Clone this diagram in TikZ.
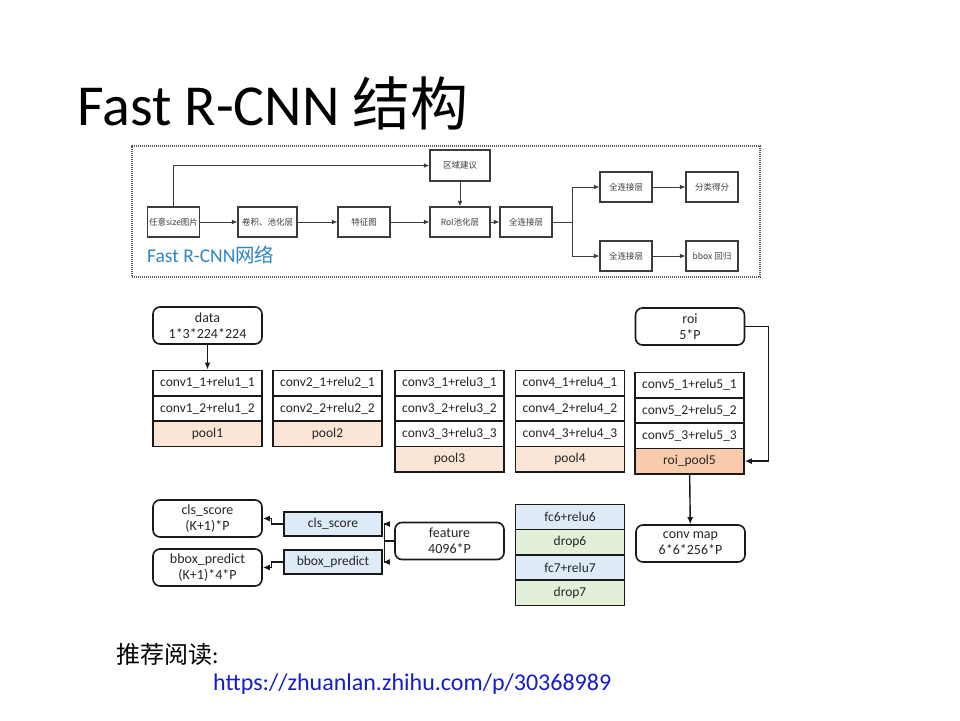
\documentclass[tikz,border=0pt]{standalone}
\usepackage{fontspec}
\setmainfont{Carlito}
\newfontfamily\cjk{Noto Sans CJK SC}
\usetikzlibrary{arrows.meta}
\definecolor{peach}{RGB}{251,229,214}
\definecolor{peachdark}{RGB}{248,203,173}
\definecolor{fcblue}{RGB}{222,235,247}
\definecolor{fcgreen}{RGB}{226,240,217}
\definecolor{netblue}{RGB}{46,134,199}
\definecolor{linkblue}{RGB}{20,30,200}
\definecolor{inkgray}{RGB}{60,60,60}

\tikzset{
  % upper flow chart
  flowbox/.style={draw=inkgray, line width=1.1pt, minimum height=30pt,
    minimum width=52pt, inner sep=1pt, text=inkgray,
    font=\cjk\fontsize{8.5}{9.5}\selectfont},
  flowarrow/.style={draw=inkgray, line width=0.8pt,
    -{Latex[length=5.5pt,width=4.5pt]}},
  flowline/.style={draw=inkgray, line width=0.8pt},
  frame/.style={draw=gray!70!black, line width=1.2pt, dash pattern=on 1.1pt off 0.9pt},
  % lower layer diagram
  layer/.style={draw=black!90, line width=1.6pt, minimum width=109pt,
    minimum height=25.3pt, inner sep=0pt, fill=white, text=black!85,
    font=\fontsize{13.5}{15}\selectfont},
  blob/.style={draw=black!90, line width=1.6pt, rounded corners=7pt,
    minimum width=109pt, minimum height=37pt, inner sep=1pt, align=center,
    text=black!85, font=\fontsize{14}{16}\selectfont},
  headbox/.style={layer, minimum width=98pt, minimum height=24pt, fill=fcblue},
  link/.style={draw=black!90, line width=1.4pt,
    -{Latex[length=7pt,width=6pt]}},
}

\begin{document}
\begin{tikzpicture}[x=1pt,y=-1pt]
\useasboundingbox[fill=white] (0,0) rectangle (960,720);

% title
\node[anchor=base west, inner sep=0pt, font=\fontsize{58}{60}\selectfont]
  (title) at (77,125) {Fast R-CNN {\cjk 结构}};

% ---------------- upper flow chart ----------------
\node[frame, minimum width=628pt, minimum height=131pt, inner sep=0pt]
  (frame) at (446,211.5) {};

\node[flowbox] (img)  at (173.5,222) {任意size图片};
\node[flowbox, minimum width=59pt] (conv) at (267.5,222) {卷积、池化层};
\node[flowbox] (fmap) at (364,222) {特征图};
\node[flowbox, minimum width=60pt] (roip) at (460,222) {RoI池化层};
\node[flowbox, minimum width=60pt, minimum height=31pt] (prop) at (460,165.5) {区域建议};
\node[flowbox] (fc)   at (526,222) {全连接层};
\node[flowbox] (fct)  at (626,187) {全连接层};
\node[flowbox] (fcb)  at (626,256) {全连接层};
\node[flowbox] (cls)  at (712,187) {分类得分};
\node[flowbox] (reg)  at (712,256) {bbox 回归};

\node[anchor=base west, inner sep=0pt, text=netblue,
  font=\fontsize{19.5}{20}\selectfont] (netname) at (147,262)
  {Fast R-CNN{\cjk 网络}};

\draw[flowarrow] (img.north) |- (prop.west);
\draw[flowarrow] (img) -- (conv);
\draw[flowarrow] (conv) -- (fmap);
\draw[flowarrow] (fmap) -- (roip);
\draw[flowarrow] (prop) -- (roip);
\draw[flowarrow] (roip) -- (fc);
\draw[flowline] (fc.east) -- ++(20,0) coordinate (split);
\draw[flowarrow] (split) |- (fct.west);
\draw[flowarrow] (split) |- (fcb.west);
\draw[flowarrow] (fct) -- (cls);
\draw[flowarrow] (fcb) -- (reg);

% ---------------- lower layer diagram ----------------
\node[blob] (data) at (207.5,325.5) {data\\1*3*224*224};
\node[blob] (roi)  at (690,326.5) {roi\\5*P};

% block 1
\node[layer] (c11) at (207.5,383) {conv1\_1+relu1\_1};
\node[layer] (c12) at (207.5,408.5) {conv1\_2+relu1\_2};
\node[layer, fill=peach] (p1) at (207.5,433.8) {pool1};
% block 2
\node[layer] (c21) at (327.5,383) {conv2\_1+relu2\_1};
\node[layer] (c22) at (327.5,408.5) {conv2\_2+relu2\_2};
\node[layer, fill=peach] (p2) at (327.5,433.8) {pool2};
% block 3
\node[layer] (c31) at (449.5,383) {conv3\_1+relu3\_1};
\node[layer] (c32) at (449.5,408.5) {conv3\_2+relu3\_2};
\node[layer] (c33) at (449.5,433.8) {conv3\_3+relu3\_3};
\node[layer, fill=peach] (p3) at (449.5,459.1) {pool3};
% block 4
\node[layer] (c41) at (570,383) {conv4\_1+relu4\_1};
\node[layer] (c42) at (570,408.5) {conv4\_2+relu4\_2};
\node[layer] (c43) at (570,433.8) {conv4\_3+relu4\_3};
\node[layer, fill=peach] (p4) at (570,459.1) {pool4};
% block 5
\node[layer] (c51) at (689.5,385) {conv5\_1+relu5\_1};
\node[layer] (c52) at (689.5,410.5) {conv5\_2+relu5\_2};
\node[layer] (c53) at (689.5,435.8) {conv5\_3+relu5\_3};
\node[layer, fill=peachdark] (rp5) at (689.5,461.1) {roi\_pool5};

% fully connected block
\node[layer, fill=fcblue]  (fc6) at (570,517) {fc6+relu6};
\node[layer, fill=fcgreen] (d6)  at (570,542.3) {drop6};
\node[layer, fill=fcblue]  (fc7) at (570,567.6) {fc7+relu7};
\node[layer, fill=fcgreen] (d7)  at (570,592.9) {drop7};

\node[blob] (cmap) at (690.5,543.5) {conv map\\6*6*256*P};
\node[blob] (feat) at (449.5,541) {feature\\4096*P};

\node[headbox] (clsh) at (333,524) {cls\_score};
\node[headbox] (bbh)  at (333,562) {bbox\_predict};
\node[blob] (clso) at (207.5,518.5) {cls\_score\\(K+1)*P};
\node[blob] (bbo)  at (207.5,567.5) {bbox\_predict\\(K+1)*4*P};

\draw[link] (data) -- (c11);
\draw[link] (roi.east) -- ++(23,0) |- (rp5.east);
\draw[link] (rp5) -- (cmap);
\draw[link] (feat.west) -- ++(-10,0) |- (clsh.east);
\draw[link] (feat.west) -- ++(-10,0) |- (bbh.east);
\draw[link] (clsh.west) -- ++(-12,0) |- (clso.east);
\draw[link] (bbh.west) -- ++(-12,0) |- (bbo.east);

% ---------------- reading note ----------------
\node[anchor=base west, inner sep=0pt, font=\fontsize{24}{26}\selectfont]
  (note) at (116,663) {{\cjk 推荐阅读}:};
\node[anchor=base west, inner sep=0pt, text=linkblue,
  font=\fontsize{24}{26}\selectfont] (url) at (213,690)
  {https://zhuanlan.zhihu.com/p/30368989};
\end{tikzpicture}
\end{document}
